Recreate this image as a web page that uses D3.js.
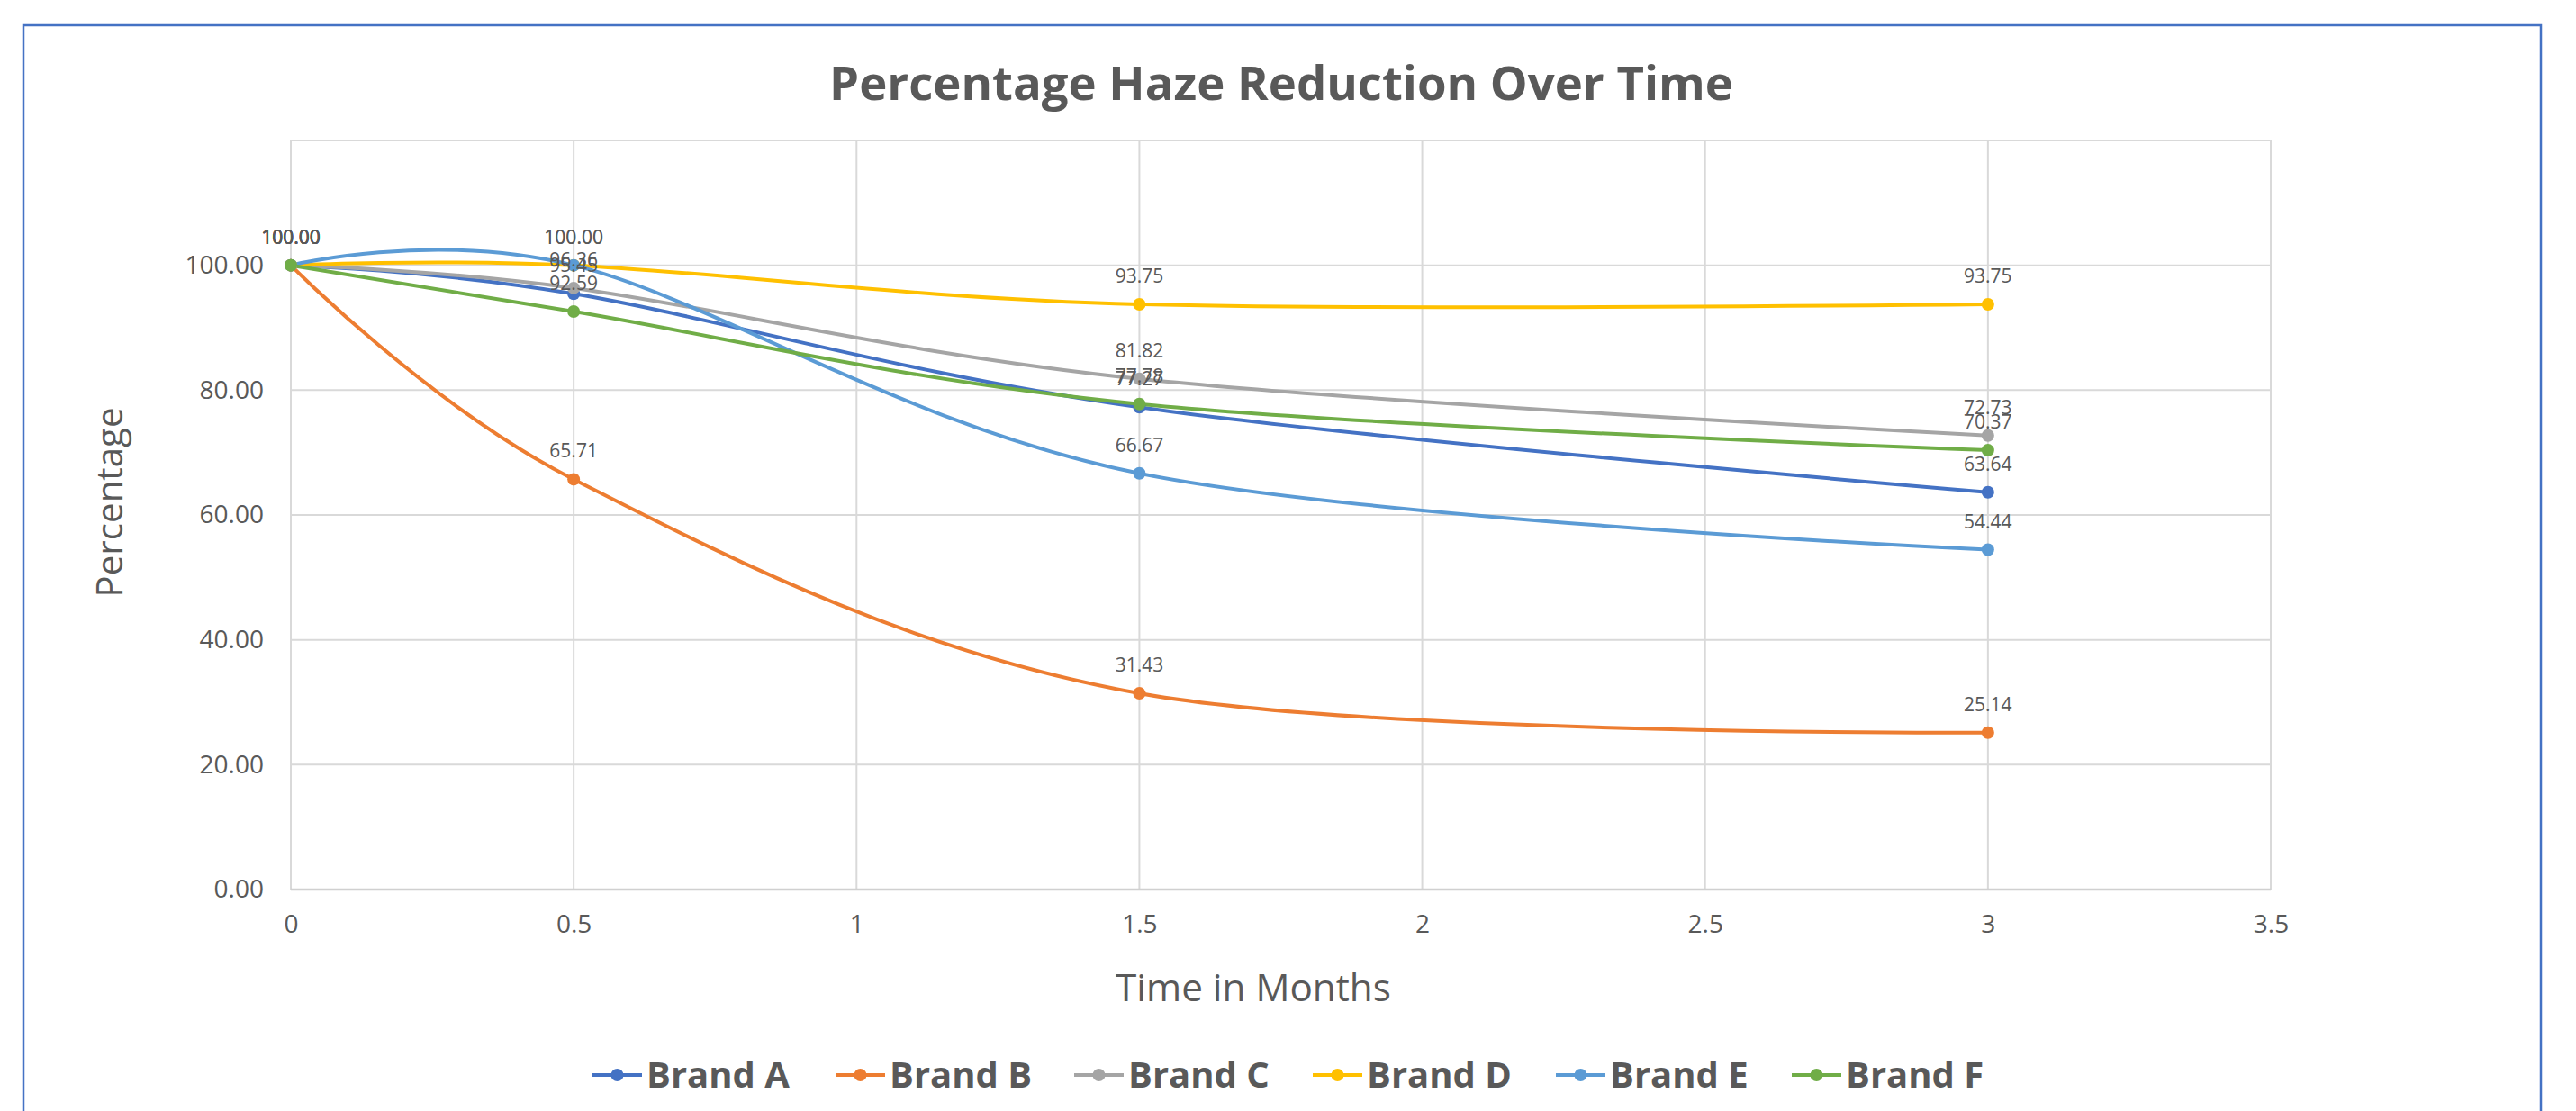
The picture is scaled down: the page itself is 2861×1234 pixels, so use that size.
<!DOCTYPE html>
<html>
<head>
<meta charset="utf-8">
<script src="https://cdn.jsdelivr.net/npm/d3@7"></script>
<style>
  html, body { margin: 0; padding: 0; background: #ffffff; }
  svg { display: block; }
  text { font-family: "Open Sans", "Noto Sans", sans-serif; fill: #595959; }
</style>
</head>
<body>
<svg id="chart" width="2861" height="1234"></svg>
<script>
// ---- data ----
const months = [0, 0.5, 1.5, 3];
const seriesNames = ["Brand A", "Brand B", "Brand C", "Brand D", "Brand E", "Brand F"];
const brandA = [100.00, 95.45, 77.27, 63.64];
const brandB = [100.00, 65.71, 31.43, 25.14];
const brandC = [100.00, 96.36, 81.82, 72.73];
const brandD = [100.00, 100.00, 93.75, 93.75];
const brandE = [100.00, 100.00, 66.67, 54.44];
const brandF = [100.00, 92.59, 77.78, 70.37];
const seriesColors = ["#4472C4", "#ED7D31", "#A5A5A5", "#FFC000", "#5B9BD5", "#70AD47"];
const yTicks = [0, 20, 40, 60, 80, 100];
const yGrid = [0, 20, 40, 60, 80, 100, 120];
const xTicks = [0, 0.5, 1, 1.5, 2, 2.5, 3, 3.5];
const titleText = "Percentage Haze Reduction Over Time";
const xTitle = "Time in Months";
const yTitle = "Percentage";

const seriesValues = [brandA, brandB, brandC, brandD, brandE, brandF];
const series = seriesNames.map((n, i) => ({
  name: n, color: seriesColors[i],
  points: months.map((m, j) => ({ x: m, y: seriesValues[i][j] }))
}));

// ---- layout ----
const svg = d3.select("#chart");
const plotL = 323, plotR = 2522, plotT = 156, plotB = 988;

const x = d3.scaleLinear().domain([0, 3.5]).range([plotL, plotR]);
const y = d3.scaleLinear().domain([0, 120]).range([plotB, plotT]);

// outer border
svg.append("rect")
  .attr("x", 26).attr("y", 28).attr("width", 2822 - 26).attr("height", 1300)
  .attr("fill", "none").attr("stroke", "#4472C4").attr("stroke-width", 2.5);

// helper to fit text width
function fitText(sel, targetWidth) {
  const node = sel.node();
  const fs = parseFloat(sel.attr("font-size"));
  const w = node.getComputedTextLength();
  if (w > 0) sel.attr("font-size", fs * targetWidth / w);
  return sel;
}

// gridlines
const g = svg.append("g");
g.selectAll("line.hg").data(yGrid).enter().append("line")
  .attr("x1", plotL).attr("x2", plotR)
  .attr("y1", d => y(d)).attr("y2", d => y(d))
  .attr("stroke", "#d9d9d9").attr("stroke-width", 2);
g.selectAll("line.vg").data(xTicks).enter().append("line")
  .attr("y1", plotT).attr("y2", plotB)
  .attr("x1", d => x(d)).attr("x2", d => x(d))
  .attr("stroke", "#d9d9d9").attr("stroke-width", 2);

// axes using d3 axis generators (styled)
const yAxis = d3.axisLeft(y).tickValues(yTicks).tickFormat(d3.format(".2f")).tickSize(0).tickPadding(30);
const yAxisG = svg.append("g").attr("transform", `translate(${plotL},0)`).call(yAxis);
yAxisG.select(".domain").remove();
yAxisG.selectAll("text").attr("font-size", 28).attr("fill", "#595959")
  .style("font-family", '"Open Sans", sans-serif');

const xAxis = d3.axisBottom(x).tickValues(xTicks).tickFormat(d => String(d)).tickSize(0).tickPadding(28);
const xAxisG = svg.append("g").attr("transform", `translate(0,${plotB})`).call(xAxis);
xAxisG.select(".domain").remove();
xAxisG.selectAll("text").attr("font-size", 28).attr("fill", "#595959")
  .style("font-family", '"Open Sans", sans-serif');

// bottom axis line
svg.append("line").attr("x1", plotL).attr("x2", plotR).attr("y1", plotB).attr("y2", plotB)
  .attr("stroke", "#d0d0d0").attr("stroke-width", 2.5);

// lines
const line = d3.line().x(d => x(d.x)).y(d => y(d.y)).curve(d3.curveCardinal.tension(0));
const sg = svg.append("g");
sg.selectAll("path.series").data(series).enter().append("path")
  .attr("d", d => line(d.points))
  .attr("fill", "none").attr("stroke", d => d.color).attr("stroke-width", 4)
  .attr("stroke-linejoin", "round").attr("stroke-linecap", "round");

// markers
series.forEach(s => {
  sg.selectAll(null).data(s.points).enter().append("circle")
    .attr("cx", d => x(d.x)).attr("cy", d => y(d.y)).attr("r", 7)
    .attr("fill", s.color);
});

// data labels
series.forEach(s => {
  sg.selectAll(null).data(s.points).enter().append("text")
    .attr("x", d => x(d.x)).attr("y", d => y(d.y) - 24)
    .attr("text-anchor", "middle").attr("font-size", 21).attr("fill", "#404040")
    .text(d => d3.format(".2f")(d.y));
});

// title
const t = svg.append("text").attr("x", 1423).attr("y", 111)
  .attr("text-anchor", "middle").attr("font-size", 52).attr("font-weight", "bold")
  .attr("fill", "#595959").text(titleText);
fitText(t, 1004);

// axis titles
const xt = svg.append("text").attr("x", 1392).attr("y", 1112)
  .attr("text-anchor", "middle").attr("font-size", 40).text(xTitle);
fitText(xt, 306);

const yt = svg.append("text").attr("transform", `translate(136,558) rotate(-90)`)
  .attr("text-anchor", "middle").attr("font-size", 40).text(yTitle);
fitText(yt, 211);

// legend
const legendX = [658, 928, 1193, 1458, 1728, 1990];
const lg = svg.append("g");
series.forEach((s, i) => {
  const lx = legendX[i], ly = 1194;
  lg.append("line").attr("x1", lx).attr("x2", lx + 55).attr("y1", ly).attr("y2", ly)
    .attr("stroke", s.color).attr("stroke-width", 4);
  lg.append("circle").attr("cx", lx + 27.5).attr("cy", ly).attr("r", 7).attr("fill", s.color);
  lg.append("text").attr("x", lx + 60).attr("y", ly + 14)
    .attr("font-size", 40).attr("font-weight", "bold").attr("fill", "#595959").text(s.name);
});
</script>
</body>
</html>
